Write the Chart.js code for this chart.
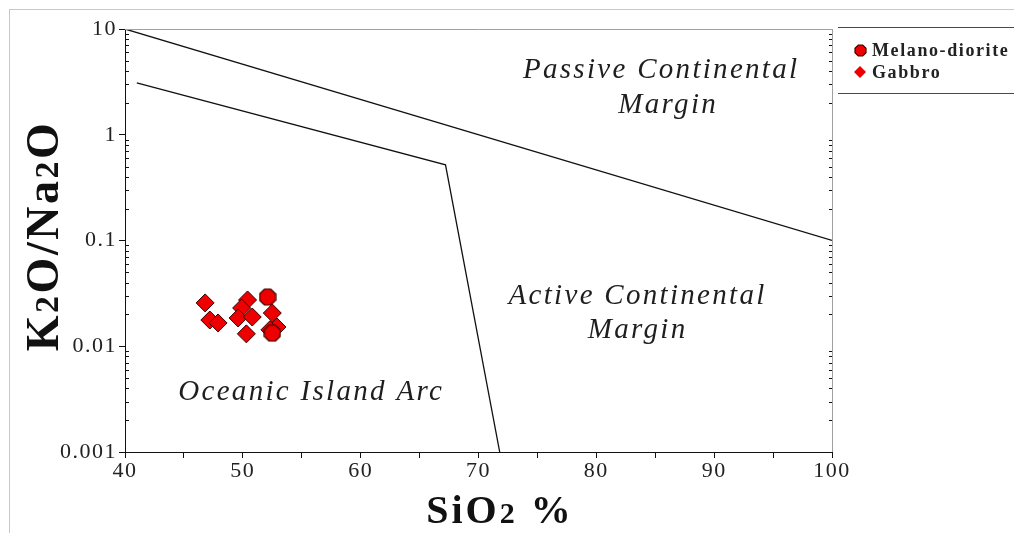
<!DOCTYPE html>
<html>
<head>
<meta charset="utf-8">
<script src="https://cdn.jsdelivr.net/npm/chart.js@4/dist/chart.umd.min.js"></script>
<style>
  html, body { margin: 0; padding: 0; background: #fff; }
  #wrap { width: 1014px; height: 533px; position: relative; }
</style>
</head>
<body>
<div id="wrap"><canvas id="chart"></canvas></div>
<script>
// ---- data ----
const melanoSiO2  = [52.1, 52.5];
const melanoRatio = [0.0292, 0.0133];

const gabbroSiO2  = [46.8, 47.2, 47.9, 50.4, 49.9, 49.6, 50.8, 50.3, 52.5, 52.9, 52.3];
const gabbroRatio = [0.0257, 0.0177, 0.0166, 0.0274, 0.0230, 0.0185, 0.0189, 0.0131, 0.0206, 0.0152, 0.0143];

// field boundaries
const pmBoundSiO2  = [40, 100];
const pmBoundRatio = [10, 0.1];
const arcBoundSiO2  = [41, 67.2, 71.8];
const arcBoundRatio = [3.1, 0.52, 0.001];

const xTicks = [40, 45, 50, 55, 60, 65, 70, 75, 80, 85, 90, 95, 100];
const yTicks = [0.001, 0.01, 0.1, 1, 10];

// field names, placed in data coordinates
const fieldLabels = [
  { text: 'Passive Continental', x: 85.5, y: 4.1 },
  { text: 'Margin',              x: 86.1, y: 1.91 },
  { text: 'Active Continental',  x: 83.5, y: 0.0299 },
  { text: 'Margin',              x: 83.5, y: 0.01426 },
  { text: 'Oceanic Island Arc',  x: 55.8, y: 0.00369 }
];

const pts = (xs, ys) => xs.map((x, i) => ({ x: x, y: ys[i] }));

// octagon marker for melano-diorite
function octagon(size) {
  const c = document.createElement('canvas');
  c.width = size + 2; c.height = size + 2;
  const g = c.getContext('2d');
  const s = size, k = s * 0.3, o = 1;
  g.beginPath();
  g.moveTo(o + k, o); g.lineTo(o + s - k, o); g.lineTo(o + s, o + k); g.lineTo(o + s, o + s - k);
  g.lineTo(o + s - k, o + s); g.lineTo(o + k, o + s); g.lineTo(o, o + s - k); g.lineTo(o, o + k);
  g.closePath();
  g.fillStyle = '#ee0000'; g.fill();
  g.lineWidth = 1.2; g.strokeStyle = '#3a0000'; g.stroke();
  return c;
}
const octBig = octagon(16);
const octSmall = octagon(11);

const SERIF = '"Liberation Serif", "DejaVu Serif", serif';

// draw text made of parts with different sizes (for K2O etc.)
function drawParts(ctx, parts, x, y, align) {
  let w = 0;
  parts.forEach(p => { ctx.font = p.font; w += ctx.measureText(p.t).width; });
  let cx = align === 'center' ? x - w / 2 : x;
  parts.forEach(p => {
    ctx.font = p.font;
    ctx.fillText(p.t, cx, y + (p.dy || 0));
    cx += ctx.measureText(p.t).width;
  });
}

const decorPlugin = {
  id: 'decor',
  beforeDraw(chart) {
    const ctx = chart.ctx;
    ctx.save();
    ctx.fillStyle = '#fff';
    ctx.fillRect(0, 0, chart.width, chart.height);
    ctx.strokeStyle = '#c8c8c8';
    ctx.lineWidth = 1;
    ctx.strokeRect(9.5, 9.5, 1010, 530);
    ctx.restore();
    // wider tracking for the tick labels, like the original renderer
    ctx.letterSpacing = '1.5px';
  },
  beforeDatasetsDraw(chart) {
    chart.ctx.letterSpacing = '0px';
  },
  afterDraw(chart) {
    const ctx = chart.ctx, a = chart.chartArea;
    const xs = chart.scales.x, ys = chart.scales.y;
    ctx.save();

    // top / right frame
    ctx.strokeStyle = '#a0a0a0';
    ctx.lineWidth = 1;
    ctx.beginPath();
    ctx.moveTo(a.left, a.top + 0.5); ctx.lineTo(a.right, a.top + 0.5);
    ctx.moveTo(a.right + 0.5, a.top); ctx.lineTo(a.right + 0.5, a.bottom);
    ctx.stroke();

    // minor log ticks on left and right edges
    ctx.strokeStyle = '#111';
    ctx.beginPath();
    for (let d = 0.001; d < 10; d *= 10) {
      for (let m = 2; m <= 9; m++) {
        const py = Math.round(ys.getPixelForValue(d * m)) + 0.5;
        ctx.moveTo(a.left, py); ctx.lineTo(a.left + 4, py);
        ctx.moveTo(a.right, py); ctx.lineTo(a.right - 3, py);
      }
    }
    ctx.stroke();

    // field names
    ctx.fillStyle = '#1e1e1e';
    ctx.textAlign = 'center';
    ctx.textBaseline = 'middle';
    ctx.font = 'italic 29px ' + SERIF;
    ctx.letterSpacing = '2.3px';
    fieldLabels.forEach(l => {
      ctx.fillText(l.text, xs.getPixelForValue(l.x), ys.getPixelForValue(l.y));
    });

    // axis titles
    ctx.fillStyle = '#111';
    ctx.textAlign = 'left';
    ctx.textBaseline = 'alphabetic';
    ctx.letterSpacing = '3px';
    const big = 'bold 40px ' + SERIF, sub = 'bold 30px ' + SERIF;
    drawParts(ctx, [{ t: 'SiO', font: big }, { t: '2', font: sub }, { t: ' %', font: big }], 500, 523, 'center');

    ctx.save();
    ctx.translate(58, 236);
    ctx.rotate(-Math.PI / 2);
    ctx.letterSpacing = '2.5px';
    const yb = 'bold 46px ' + SERIF, ysb = 'bold 34px ' + SERIF;
    drawParts(ctx, [
      { t: 'K', font: yb }, { t: '2', font: ysb }, { t: 'O/Na', font: yb },
      { t: '2', font: ysb }, { t: 'O', font: yb }
    ], 0, 0, 'center');
    ctx.restore();

    // legend box
    ctx.strokeStyle = '#3c3cb0';
    ctx.lineWidth = 1.2;
    ctx.beginPath();
    ctx.moveTo(838, 27.5); ctx.lineTo(1014, 27.5);
    ctx.moveTo(838, 93.5); ctx.lineTo(1014, 93.5);
    ctx.stroke();

    ctx.drawImage(octSmall, 854, 44);
    ctx.beginPath();
    ctx.moveTo(860, 66); ctx.lineTo(866, 72); ctx.lineTo(860, 78); ctx.lineTo(854, 72);
    ctx.closePath();
    ctx.fillStyle = '#ee0000'; ctx.fill();

    ctx.fillStyle = '#222';
    ctx.font = 'bold 18px ' + SERIF;
    ctx.letterSpacing = '1.6px';
    ctx.fillText('Melano-diorite', 872, 56);
    ctx.fillText('Gabbro', 872, 78);

    ctx.restore();
    ctx.letterSpacing = '0px';
  }
};

new Chart(document.getElementById('chart'), {
  type: 'scatter',
  data: {
    datasets: [
      {
        label: 'Melano-diorite',
        data: pts(melanoSiO2, melanoRatio),
        pointStyle: octBig,
        pointRadius: 8
      },
      {
        label: 'Gabbro',
        data: pts(gabbroSiO2, gabbroRatio),
        pointStyle: 'rectRot',
        pointRadius: 9,
        backgroundColor: '#ee0000',
        borderColor: '#3a0000',
        borderWidth: 1
      },
      {
        label: 'PM boundary',
        data: pts(pmBoundSiO2, pmBoundRatio),
        showLine: true,
        pointRadius: 0,
        borderColor: '#111',
        borderWidth: 1.3
      },
      {
        label: 'ARC boundary',
        data: pts(arcBoundSiO2, arcBoundRatio),
        showLine: true,
        pointRadius: 0,
        borderColor: '#111',
        borderWidth: 1.3
      }
    ]
  },
  options: {
    responsive: true,
    maintainAspectRatio: false,
    animation: false,
    layout: { padding: { left: 0, top: 29, right: 182, bottom: 0 } },
    plugins: { legend: { display: false }, tooltip: { enabled: false } },
    scales: {
      x: {
        type: 'linear',
        min: 40, max: 100,
        afterBuildTicks: s => { s.ticks = xTicks.map(v => ({ value: v })); },
        afterFit: s => { s.height = 81; },
        grid: { drawOnChartArea: false, tickLength: 6, color: '#111' },
        border: { color: '#111', width: 1 },
        ticks: {
          autoSkip: false, maxRotation: 0, padding: 0,
          color: '#222',
          font: { family: SERIF, size: 22 },
          callback: v => (v % 10 === 0 ? String(v) : '')
        }
      },
      y: {
        type: 'logarithmic',
        min: 0.001, max: 10,
        afterBuildTicks: s => { s.ticks = yTicks.map(v => ({ value: v })); },
        afterFit: s => { s.width = 125; },
        grid: { drawOnChartArea: false, tickLength: 6, color: '#111' },
        border: { color: '#111', width: 1 },
        ticks: {
          autoSkip: false, padding: 2,
          color: '#222',
          font: { family: SERIF, size: 22 },
          callback: v => String(v)
        }
      }
    }
  },
  plugins: [decorPlugin]
});
</script>
</body>
</html>
